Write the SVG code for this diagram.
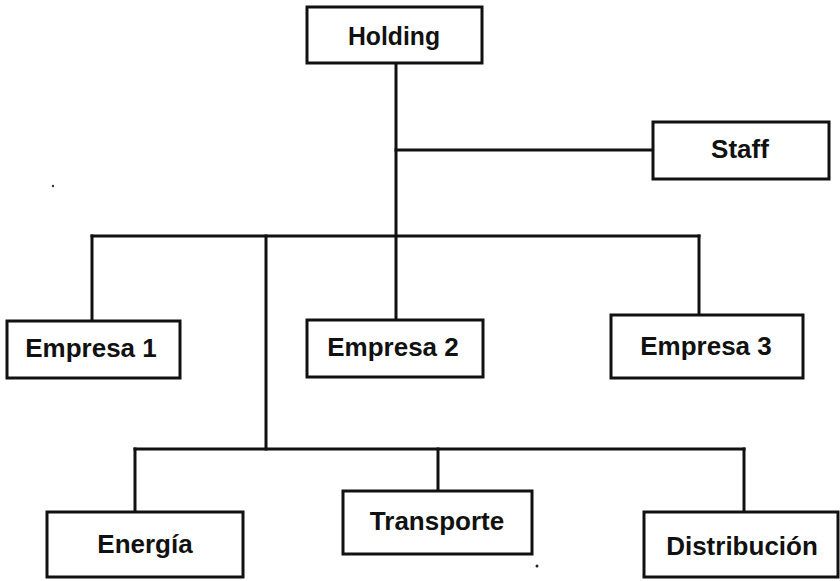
<svg xmlns="http://www.w3.org/2000/svg" width="840" height="581" viewBox="0 0 840 581">
  <style>
    .box { fill: #ffffff; stroke: #111111; stroke-width: 3; }
    .wire { fill: none; stroke: #111111; stroke-width: 3; stroke-linecap: square; }
    .label { font-family: "Liberation Sans", Arial, sans-serif; font-weight: bold; font-size: 26px; fill: #111111; text-anchor: middle; }
  </style>
  <rect width="840" height="581" fill="#ffffff"/>

  <!-- connectors -->
  <g id="connectors" class="wire">
    <!-- trunk from Holding -->
    <path d="M396,63 V321"/>
    <!-- staff branch -->
    <path d="M396,150 H653"/>
    <!-- company level bar -->
    <path d="M92,236 H699"/>
    <path d="M92,236 V321"/>
    <path d="M699,236 V315"/>
    <!-- business area branch -->
    <path d="M266,236 V449"/>
    <path d="M135,449 H744"/>
    <path d="M135,449 V512"/>
    <path d="M438,449 V491"/>
    <path d="M744,449 V512"/>
  </g>

  <g id="holding">
    <rect class="box" x="307" y="7" width="175" height="56"/>
    <text class="label" x="394" y="45" textLength="92" lengthAdjust="spacingAndGlyphs">Holding</text>
  </g>

  <g id="staff">
    <rect class="box" x="653" y="122" width="176" height="57"/>
    <text class="label" x="740" y="158">Staff</text>
  </g>

  <g id="empresa1">
    <rect class="box" x="7" y="321" width="173" height="57"/>
    <text class="label" x="91" y="357">Empresa 1</text>
  </g>

  <g id="empresa2">
    <rect class="box" x="307" y="320" width="176" height="57"/>
    <text class="label" x="393" y="356">Empresa 2</text>
  </g>

  <g id="empresa3">
    <rect class="box" x="611" y="315" width="192" height="63"/>
    <text class="label" x="706" y="355">Empresa 3</text>
  </g>

  <g id="energia">
    <rect class="box" x="47" y="512" width="196" height="65"/>
    <text class="label" x="145" y="553">Energía</text>
  </g>

  <g id="transporte">
    <rect class="box" x="343" y="491" width="189" height="63"/>
    <text class="label" x="437" y="530">Transporte</text>
  </g>

  <g id="distribucion">
    <rect class="box" x="644" y="512" width="194" height="65"/>
    <text class="label" x="742" y="555">Distribución</text>
  </g>

  <!-- stray specks -->
  <circle cx="53" cy="186" r="1.2" fill="#333333"/>
  <circle cx="537" cy="566" r="1.5" fill="#222222"/>
</svg>
